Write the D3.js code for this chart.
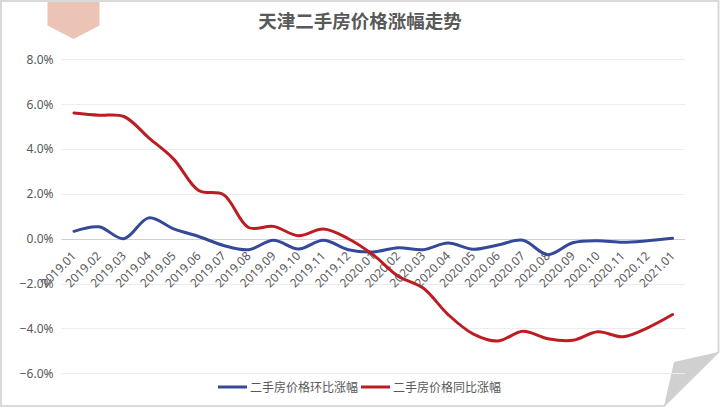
<!DOCTYPE html>
<html>
<head>
<meta charset="utf-8">
<script src="https://cdn.jsdelivr.net/npm/d3@7"></script>
<style>
  html, body { margin: 0; padding: 0; background: #fff; }
  svg { display: block; }
  text { font-family: "Noto Sans", "Noto Sans CJK SC", sans-serif; fill: #595959; }
</style>
</head>
<body>
<div id="chart"></div>
<script>
const months = ['2019.01', '2019.02', '2019.03', '2019.04', '2019.05', '2019.06', '2019.07',
  '2019.08', '2019.09', '2019.10', '2019.11', '2019.12', '2020.01', '2020.02', '2020.03',
  '2020.04', '2020.05', '2020.06', '2020.07', '2020.08', '2020.09', '2020.10', '2020.11',
  '2020.12', '2021.01'];
// 环比 (month on month), %
const momValues = [0.33, 0.53, 0.0, 0.93, 0.44, 0.1, -0.3, -0.49, -0.07, -0.46, -0.07, -0.49,
  -0.59, -0.4, -0.49, -0.19, -0.47, -0.28, -0.07, -0.71, -0.18, -0.09, -0.16, -0.09, 0.02];
// 同比 (year on year), %
const yoyValues = [5.61, 5.51, 5.45, 4.5, 3.55, 2.15, 1.96, 0.5, 0.55, 0.13, 0.43, 0.0,
  -0.72, -1.67, -2.2, -3.38, -4.24, -4.56, -4.13, -4.46, -4.53, -4.15, -4.37, -3.97, -3.38];
const yTicks = [-6, -4, -2, 0, 2, 4, 6, 8];
const seriesNames = ['二手房价格环比涨幅', '二手房价格同比涨幅'];
const seriesColors = ['#34499a', '#bc1c22'];

const W = 720, H = 417;
const svg = d3.select('#chart').append('svg')
  .attr('width', W)
  .attr('height', H);

// page outline with folded corner
svg.append('path')
  .attr('d', 'M1,1 L718.5,1 L718.5,352 L664,406 L1,406 Z')
  .attr('fill', '#fff')
  .attr('stroke', '#d9d9d9')
  .attr('stroke-width', 2);
svg.append('path')
  .attr('d', 'M674,362 L718.5,352 L664,406 Z')
  .attr('fill', '#d0d0d0');

// badge
svg.append('path')
  .attr('d', 'M47.5,2 L99.5,2 L99.5,25.5 L73.5,39 L47.5,25.5 Z')
  .attr('fill', '#ebc4b6');

svg.append('text')
  .attr('x', 360)
  .attr('y', 28)
  .attr('text-anchor', 'middle')
  .style('font-family', '"Noto Sans CJK SC", sans-serif')
  .style('font-size', '18.5px')
  .style('font-weight', 'bold')
  .text('天津二手房价格涨幅走势');

const x = d3.scaleBand().domain(months).range([61.5, 685]).padding(0);
const y = d3.scaleLinear().domain([-6, 8]).range([373.3, 59.3]);

// gridlines
svg.append('g')
  .selectAll('line')
  .data(yTicks)
  .enter()
  .append('line')
  .attr('x1', 61.5)
  .attr('x2', 685)
  .attr('y1', d => Math.round(y(d)) + 0.5)
  .attr('y2', d => Math.round(y(d)) + 0.5)
  .attr('stroke', d => d === 0 ? '#d0d0d0' : '#ececec')
  .attr('stroke-width', 1);

// y axis labels
const yAxis = d3.axisLeft(y)
  .tickValues(yTicks)
  .tickSize(0)
  .tickPadding(8)
  .tickFormat(d => d3.format('.1f')(d) + '%');
svg.append('g')
  .attr('transform', 'translate(61.5,0)')
  .call(yAxis)
  .call(g => g.select('.domain').remove())
  .call(g => g.selectAll('text')
    .style('font-size', '12px')
    .style('fill', '#595959')
    .style('font-family', '"Noto Sans", sans-serif'));

// x axis labels, rotated
const xAxis = d3.axisBottom(x).tickSize(0).tickPadding(0);
svg.append('g')
  .attr('transform', `translate(0,${y(0)})`)
  .call(xAxis)
  .call(g => g.select('.domain').remove())
  .call(g => g.selectAll('text')
    .style('font-size', '12px')
    .style('fill', '#595959')
    .style('font-family', '"Noto Sans", sans-serif')
    .attr('text-anchor', 'end')
    .attr('dy', '0')
    .attr('transform', 'translate(3,18) rotate(-45)'));

const line = d3.line()
  .x((d, i) => x(months[i]) + x.bandwidth() / 2)
  .y(d => y(d))
  .curve(d3.curveCatmullRom.alpha(0.5));

[momValues, yoyValues].forEach((vals, k) => {
  svg.append('path')
    .datum(vals)
    .attr('fill', 'none')
    .attr('stroke', seriesColors[k])
    .attr('stroke-width', 3)
    .attr('stroke-linejoin', 'round')
    .attr('stroke-linecap', 'round')
    .attr('d', line);
});

// legend
const legendItems = [
  { x: 218, name: seriesNames[0], color: seriesColors[0] },
  { x: 361, name: seriesNames[1], color: seriesColors[1] },
];
const lg = svg.append('g').selectAll('g')
  .data(legendItems)
  .enter()
  .append('g')
  .attr('transform', d => `translate(${d.x},387)`);
lg.append('line')
  .attr('x1', 0)
  .attr('x2', 29)
  .attr('stroke', d => d.color)
  .attr('stroke-width', 3);
lg.append('text')
  .attr('x', 32)
  .attr('y', 4.5)
  .style('font-size', '12px')
  .style('font-family', '"Noto Sans CJK SC", sans-serif')
  .text(d => d.name);
</script>
</body>
</html>
